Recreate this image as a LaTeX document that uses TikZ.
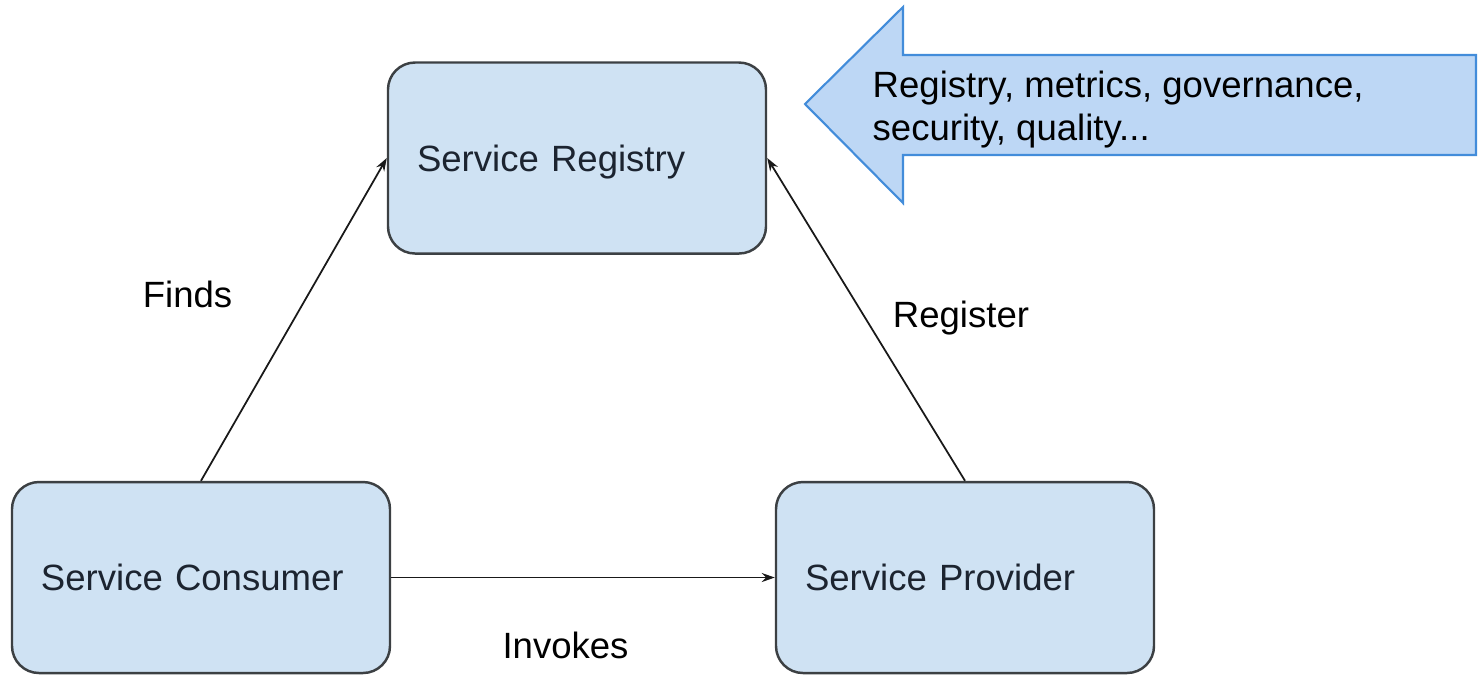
\documentclass[tikz,border=0pt]{standalone}
\usepackage{fontspec}
\setmainfont{Liberation Sans}
\usetikzlibrary{arrows.meta}

\definecolor{boxfill}{RGB}{207,226,243}
\definecolor{boxline}{RGB}{60,64,67}
\definecolor{boxtext}{RGB}{28,36,48}
\definecolor{notefill}{RGB}{189,215,245}
\definecolor{noteline}{RGB}{66,140,218}

\tikzset{
    servicebox/.style={draw=boxline, line width=0.7pt, fill=boxfill, rounded corners=0.27cm,
        minimum height=1.91cm, text width=3.2cm, inner xsep=0.29cm, align=left,
        text height=0.26cm, text depth=0pt, text=boxtext, font=\fontsize{10.4}{12.5}\selectfont},
    link/.style={line width=0.5pt, black!90, -{Stealth[length=0.13cm, width=0.09cm]}},
    linklabel/.style={anchor=base, inner sep=0pt, font=\fontsize{10.4}{12.5}\selectfont}
}

\begin{document}
\begin{tikzpicture}

            \useasboundingbox (0,0) rectangle (14.81,-6.74);

            \node[servicebox] (registry) at (5.77,-1.58) {Service Registry};
            \node[servicebox] (consumer) at (2.01,-5.775) {Service Consumer};
            \node[servicebox] (provider) at (9.65,-5.775) {Service Provider};

            \draw[link] (consumer.north) -- (registry.west);
            \draw[link] (provider.north) -- (registry.east);
            \draw[link] (consumer.east) -- (provider.west);

            \node[linklabel] (finds) at (1.875,-3.07) {Finds};
            \node[linklabel] (register) at (9.61,-3.27) {Register};
            \node[linklabel] (invokes) at (5.655,-6.58) {Invokes};

            \draw[line width=0.6pt, draw=noteline, fill=notefill] (8.05,-1.04) -- (9.03,-0.07) -- (9.03,-0.55)
                -- (14.76,-0.55) -- (14.76,-1.55) -- (9.03,-1.55) -- (9.03,-2.03) -- cycle;
            \node[anchor=west, inner sep=0pt, align=left, font=\fontsize{10.4}{12.2}\selectfont] (note) at (8.72,-1.095)
                {Registry, metrics, governance,\\security, quality...};

        \end{tikzpicture}
\end{document}
